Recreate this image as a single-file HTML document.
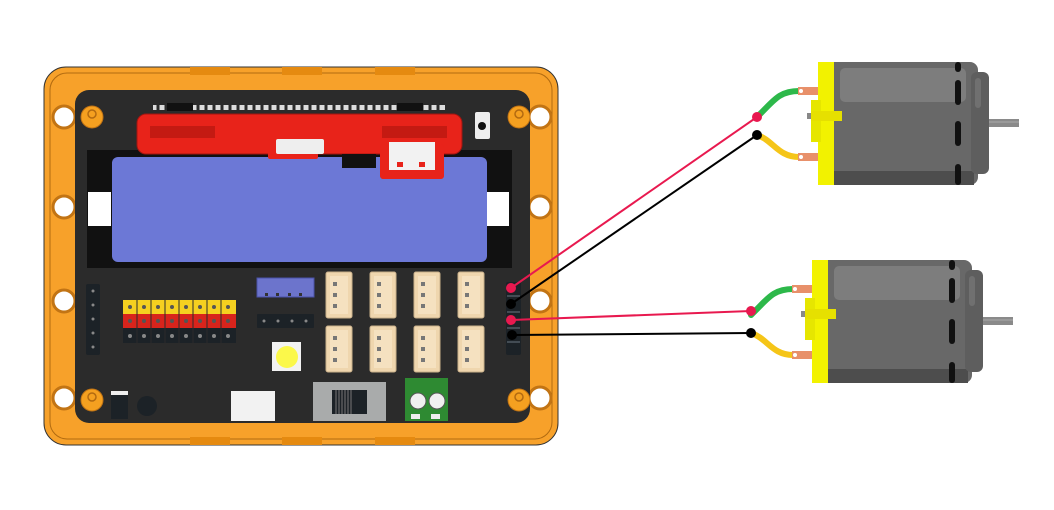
<!DOCTYPE html>
<html><head><meta charset="utf-8"><style>
html,body{margin:0;padding:0;background:#fff;}
svg{display:block;}
</style></head><body>
<svg width="1054" height="510" viewBox="0 0 1054 510" xmlns="http://www.w3.org/2000/svg">
<defs>
<g id="jst">
  <rect x="0" y="0" width="26" height="46" rx="2" fill="#efd6ae" stroke="#c9b08a" stroke-width="1"/>
  <rect x="4" y="4" width="18" height="38" fill="#f5e1c0"/>
  <rect x="7" y="10" width="4" height="4" fill="#777"/>
  <rect x="7" y="21" width="4" height="4" fill="#777"/>
  <rect x="7" y="32" width="4" height="4" fill="#777"/>
</g>
<g id="motor">
  <rect x="16" y="0" width="144" height="123" rx="8" fill="#686868"/>
  <rect x="16" y="0" width="10" height="123" fill="#686868"/>
  <rect x="22" y="6" width="126" height="34" rx="5" fill="#7d7d7d"/>
  <rect x="16" y="109" width="140" height="14" fill="#4d4d4d"/>
  <rect x="153" y="10" width="18" height="102" rx="6" fill="#5e5e5e"/>
  <rect x="157" y="16" width="6" height="30" rx="3" fill="#707070"/>
  <rect x="171" y="57" width="30" height="8" fill="#8a8a8a"/>
  <rect x="171" y="59" width="30" height="2" fill="#9a9a9a"/>
  <rect x="137" y="0" width="6" height="10" rx="3" fill="#111"/>
  <rect x="137" y="18" width="6" height="25" rx="3" fill="#111"/>
  <rect x="137" y="59" width="6" height="25" rx="3" fill="#111"/>
  <rect x="137" y="102" width="6" height="21" rx="3" fill="#111"/>
  <rect x="0" y="0" width="16" height="123" fill="#f2f200"/>
  <rect x="-7" y="38" width="10" height="42" fill="#e6e600"/>
  <rect x="-7" y="49" width="31" height="10" fill="#e6e000"/>
  <rect x="-11" y="51" width="4" height="6" fill="#888"/>
  <path d="M-61,55 C-45,40 -40,29 -19,29" stroke="#2db84a" stroke-width="6" fill="none" stroke-linecap="round"/>
  <path d="M-61,73 C-45,78 -40,95 -19,95" stroke="#f5c518" stroke-width="6" fill="none" stroke-linecap="round"/>
  <rect x="-20" y="25" width="20" height="8" fill="#e8906a"/>
  <rect x="-20" y="91" width="20" height="8" fill="#e8906a"/>
  <circle cx="-17" cy="29" r="2" fill="#fff"/>
  <circle cx="-17" cy="95" r="2" fill="#fff"/>
</g>
</defs>

<!-- board orange frame -->
<rect x="44" y="67" width="514" height="378" rx="22" fill="#f7a12a" stroke="#333" stroke-width="1"/>
<rect x="50" y="73" width="502" height="366" rx="17" fill="none" stroke="#b06a10" stroke-width="1"/>
<g fill="#fff" stroke="#c27414" stroke-width="3">
  <circle cx="64" cy="117" r="11"/><circle cx="64" cy="207" r="11"/><circle cx="64" cy="301" r="11"/><circle cx="64" cy="398" r="11"/>
  <circle cx="540" cy="117" r="11"/><circle cx="540" cy="207" r="11"/><circle cx="540" cy="301" r="11"/><circle cx="540" cy="398" r="11"/>
</g>
<g fill="#e58a10">
  <rect x="190" y="67" width="40" height="8"/><rect x="282" y="67" width="40" height="8"/><rect x="375" y="67" width="40" height="8"/>
  <rect x="190" y="437" width="40" height="8"/><rect x="282" y="437" width="40" height="8"/><rect x="375" y="437" width="40" height="8"/>
</g>

<!-- dark pcb -->
<rect x="75" y="90" width="455" height="333" rx="14" fill="#2b2b2b"/>
<!-- mounting holes -->
<g fill="#f5a020" stroke="#c27414" stroke-width="1">
  <circle cx="92" cy="117" r="11"/><circle cx="519" cy="117" r="11"/><circle cx="92" cy="400" r="11"/><circle cx="519" cy="400" r="11"/>
</g>
<g fill="none" stroke="#b36a10" stroke-width="1.5">
  <circle cx="92" cy="114" r="4"/><circle cx="519" cy="114" r="4"/><circle cx="92" cy="397" r="4"/><circle cx="519" cy="397" r="4"/>
</g>

<!-- pin row top -->
<g fill="#ddd">
  <rect x="153" y="105" width="292" height="5"/>
</g>
<g stroke="#2b2b2b" stroke-width="3">
  <path d="M158,104 V111 M166,104 V111 M174,104 V111 M182,104 V111 M190,104 V111 M198,104 V111 M206,104 V111 M214,104 V111 M222,104 V111 M230,104 V111 M238,104 V111 M246,104 V111 M254,104 V111 M262,104 V111 M270,104 V111 M278,104 V111 M286,104 V111 M294,104 V111 M302,104 V111 M310,104 V111 M318,104 V111 M326,104 V111 M334,104 V111 M342,104 V111 M350,104 V111 M358,104 V111 M366,104 V111 M374,104 V111 M382,104 V111 M390,104 V111 M398,104 V111 M406,104 V111 M414,104 V111 M422,104 V111 M430,104 V111 M438,104 V111"/>
</g>
<rect x="167" y="103" width="26" height="8" fill="#111"/>
<rect x="397" y="103" width="26" height="8" fill="#111"/>
<rect x="475" y="112" width="15" height="27" rx="2" fill="#eee"/>
<circle cx="482" cy="126" r="4" fill="#111"/>

<!-- battery holder -->
<rect x="87" y="150" width="425" height="118" fill="#111"/>
<rect x="112" y="157" width="375" height="105" rx="6" fill="#6c78d6"/>
<rect x="88" y="192" width="23" height="34" fill="#fff"/>
<rect x="487" y="192" width="22" height="34" fill="#fff"/>

<!-- red module -->
<rect x="137" y="114" width="325" height="40" rx="9" fill="#e8231a" stroke="#a01510" stroke-width="1"/>
<rect x="150" y="126" width="65" height="12" fill="#c41a12"/>
<rect x="382" y="126" width="65" height="12" fill="#c41a12"/>
<rect x="268" y="139" width="50" height="20" rx="2" fill="#e8231a"/>
<rect x="276" y="139" width="48" height="15" rx="2" fill="#eee"/>
<rect x="342" y="154" width="34" height="14" fill="#111"/>
<rect x="380" y="144" width="64" height="35" rx="3" fill="#e8231a"/>
<rect x="389" y="142" width="46" height="28" fill="#f2f2f2"/>
<rect x="397" y="162" width="6" height="5" fill="#e8231a"/><rect x="419" y="162" width="6" height="5" fill="#e8231a"/>

<!-- left header -->
<rect x="86" y="284" width="14" height="71" rx="2" fill="#1c2227"/>
<g fill="#888"><circle cx="93" cy="291" r="1.5"/><circle cx="93" cy="305" r="1.5"/><circle cx="93" cy="319" r="1.5"/><circle cx="93" cy="333" r="1.5"/><circle cx="93" cy="347" r="1.5"/></g>

<!-- colored pin headers -->
<rect x="123" y="300" width="113" height="14" fill="#f5d020"/>
<rect x="123" y="314" width="113" height="14" fill="#d8241c"/>
<rect x="123" y="328" width="113" height="15" fill="#1c2227"/>
<g stroke="#2b2b2b" stroke-width="1">
  <path d="M137,300 V343 M151,300 V343 M165,300 V343 M179,300 V343 M193,300 V343 M207,300 V343 M221,300 V343"/>
</g>
<g fill="#555">
  <circle cx="130" cy="307" r="2"/><circle cx="144" cy="307" r="2"/><circle cx="158" cy="307" r="2"/><circle cx="172" cy="307" r="2"/><circle cx="186" cy="307" r="2"/><circle cx="200" cy="307" r="2"/><circle cx="214" cy="307" r="2"/><circle cx="228" cy="307" r="2"/>
  <circle cx="130" cy="321" r="2"/><circle cx="144" cy="321" r="2"/><circle cx="158" cy="321" r="2"/><circle cx="172" cy="321" r="2"/><circle cx="186" cy="321" r="2"/><circle cx="200" cy="321" r="2"/><circle cx="214" cy="321" r="2"/><circle cx="228" cy="321" r="2"/>
  <circle cx="130" cy="336" r="2" fill="#888"/><circle cx="144" cy="336" r="2" fill="#888"/><circle cx="158" cy="336" r="2" fill="#888"/><circle cx="172" cy="336" r="2" fill="#888"/><circle cx="186" cy="336" r="2" fill="#888"/><circle cx="200" cy="336" r="2" fill="#888"/><circle cx="214" cy="336" r="2" fill="#888"/><circle cx="228" cy="336" r="2" fill="#888"/>
</g>

<!-- blue connector -->
<rect x="257" y="278" width="57" height="19" fill="#6c74cc" stroke="#4a52a8" stroke-width="1"/>
<g fill="#333"><rect x="265" y="293" width="3" height="3"/><rect x="276" y="293" width="3" height="3"/><rect x="288" y="293" width="3" height="3"/><rect x="299" y="293" width="3" height="3"/></g>
<rect x="257" y="314" width="57" height="14" rx="1" fill="#1c2227"/>
<g fill="#888"><circle cx="264" cy="321" r="1.5"/><circle cx="278" cy="321" r="1.5"/><circle cx="292" cy="321" r="1.5"/><circle cx="306" cy="321" r="1.5"/></g>

<!-- JST connectors -->
<use href="#jst" x="326" y="272"/><use href="#jst" x="370" y="272"/><use href="#jst" x="414" y="272"/><use href="#jst" x="458" y="272"/>
<use href="#jst" x="326" y="326"/><use href="#jst" x="370" y="326"/><use href="#jst" x="414" y="326"/><use href="#jst" x="458" y="326"/>

<!-- LED -->
<rect x="272" y="342" width="29" height="29" fill="#f2f2f2"/>
<circle cx="287" cy="357" r="11" fill="#fbf84a"/>

<!-- right header -->
<rect x="506" y="282" width="15" height="73" rx="2" fill="#1c2227"/>
<g stroke="#6a7580" stroke-width="1"><path d="M507,296 H520 M507,312 H520 M507,328 H520 M507,342 H520"/></g>

<!-- bottom components -->
<rect x="111" y="391" width="17" height="28" fill="#1c2227"/>
<rect x="111" y="391" width="17" height="4" fill="#eee"/>
<circle cx="147" cy="406" r="10" fill="#1c2227"/>
<rect x="231" y="391" width="44" height="30" fill="#f2f2f2"/>
<rect x="313" y="382" width="73" height="39" fill="#a9abab"/>
<rect x="332" y="390" width="35" height="24" fill="#1c2227"/>
<g stroke="#777" stroke-width="1"><path d="M336,390 V414 M339,390 V414 M342,390 V414 M345,390 V414 M348,390 V414 M351,390 V414"/></g>
<rect x="405" y="378" width="43" height="43" fill="#2e8a32"/>
<circle cx="418" cy="401" r="8" fill="#f0f0f0" stroke="#555"/><circle cx="437" cy="401" r="8" fill="#f0f0f0" stroke="#555"/>
<rect x="411" y="414" width="9" height="5" fill="#eee"/><rect x="431" y="414" width="9" height="5" fill="#eee"/>

<!-- motors -->
<use href="#motor" x="818" y="62"/>
<use href="#motor" x="812" y="260"/>

<!-- wires -->
<line x1="511" y1="288" x2="757" y2="117" stroke="#e8194f" stroke-width="2"/>
<line x1="511" y1="304" x2="757" y2="135" stroke="#000" stroke-width="2"/>
<line x1="511" y1="320" x2="751" y2="311" stroke="#e8194f" stroke-width="2"/>
<line x1="512" y1="335" x2="751" y2="333" stroke="#000" stroke-width="2"/>
<circle cx="511" cy="288" r="5" fill="#e8194f"/>
<circle cx="511" cy="304" r="5" fill="#000"/>
<circle cx="511" cy="320" r="5" fill="#e8194f"/>
<circle cx="512" cy="335" r="5" fill="#000"/>
<circle cx="757" cy="117" r="5" fill="#e8194f"/>
<circle cx="757" cy="135" r="5" fill="#000"/>
<circle cx="751" cy="311" r="5" fill="#e8194f"/>
<circle cx="751" cy="333" r="5" fill="#000"/>
</svg>
</body></html>
